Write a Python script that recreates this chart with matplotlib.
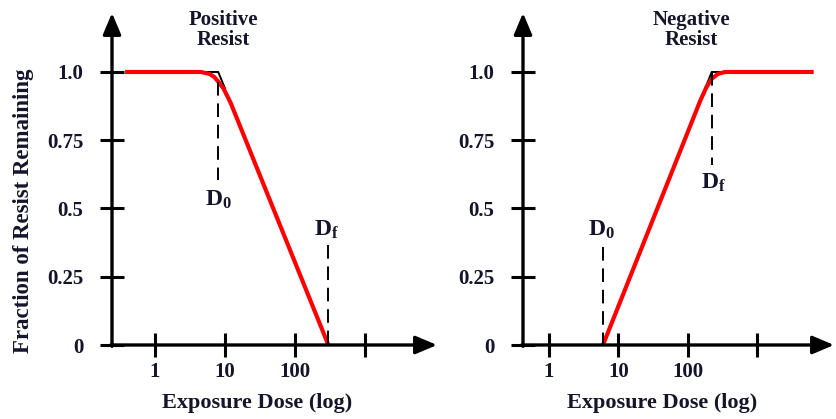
import matplotlib
matplotlib.use('Agg')
import matplotlib.pyplot as plt
from matplotlib.ticker import FixedLocator, NullLocator, FixedFormatter

plt.rcParams['font.family'] = 'Liberation Serif'
plt.rcParams['font.weight'] = 'bold'
plt.rcParams['axes.labelweight'] = 'bold'
plt.rcParams['mathtext.fontset'] = 'custom'
plt.rcParams['mathtext.rm'] = 'Liberation Serif:bold'
plt.rcParams['mathtext.it'] = 'Liberation Serif:bold'
plt.rcParams['mathtext.bf'] = 'Liberation Serif:bold'

TXT = '#14142a'

# datos del esquema (dosis en escala log, fraccion de resist)
x_ticks = [1, 10, 100, 1000]
x_labels = ['1', '10', '100', '']
y_ticks = [0, 0.25, 0.5, 0.75, 1.0]
y_labels = ['0', '0.25', '0.5', '0.75', '1.0']

pos_D0 = 8
pos_Df = 300
pos_dose = [0.4, 4.5, 6, 7, 8, 9.5, 12, 300]
pos_frac = [1.0, 1.0, 0.993, 0.982, 0.965, 0.94, 0.888, 0.0]
pos_ideal_dose = [4, 8, 10]
pos_ideal_frac = [1.0, 1.0, 0.94]

neg_D0 = 6
neg_Df = 220
neg_dose = [6, 150, 185, 220, 270, 340, 6000]
neg_frac = [0.0, 0.894, 0.945, 0.975, 0.993, 1.0, 1.0]
neg_ideal_dose = [155, 220, 420]
neg_ideal_frac = [0.903, 1.0, 1.0]

W, H = 836, 419
fig = plt.figure(figsize=(W / 100, H / 100), dpi=100)


def make_axes(x0, x1, y0, y1, xlim):
    ax = fig.add_axes([x0 / W, 1 - y1 / H, (x1 - x0) / W, (y1 - y0) / H])
    ax.set_xscale('log')
    ax.set_xlim(*xlim)
    ax.set_ylim(0, 1.216)
    for s in ax.spines.values():
        s.set_visible(False)
    ax.xaxis.set_major_locator(FixedLocator(x_ticks))
    ax.xaxis.set_major_formatter(FixedFormatter(x_labels))
    ax.xaxis.set_minor_locator(NullLocator())
    ax.set_yticks(y_ticks)
    ax.set_yticklabels(y_labels)
    ax.tick_params(axis='both', direction='inout', length=17, width=2.2,
                   labelsize=15, color='k', labelcolor=TXT)
    ax.tick_params(axis='y', pad=12)
    ax.tick_params(axis='x', pad=4)
    arrow = dict(arrowstyle='-|>,head_length=1.3,head_width=0.55', lw=2.4,
                 color='k', shrinkA=0, shrinkB=0)
    ax.annotate('', xy=(1, 0), xytext=(-0.004, 0), xycoords='axes fraction',
                arrowprops=arrow)
    ax.annotate('', xy=(0, 1), xytext=(0, -0.004), xycoords='axes fraction',
                arrowprops=arrow)
    ax.set_xlabel('Exposure Dose (log)', fontsize=16, color=TXT)
    ax.xaxis.set_label_coords(0.446, -0.145)
    return ax


ax1 = make_axes(112, 437, 13, 345, (0.243, 10700))
ax1.plot(pos_ideal_dose, pos_ideal_frac, color='k', lw=1.4)
ax1.plot(pos_dose, pos_frac, color='#ff0000', lw=3)
ax1.plot([pos_D0, pos_D0], [0.963, 0.604], color='k', lw=1.4, dashes=(7, 4))
ax1.plot([pos_Df, pos_Df], [0.366, 0.0], color='k', lw=1.4, dashes=(7, 4))
ax1.text(pos_D0, 0.53, '$D_0$', fontsize=17, ha='center', va='center', color=TXT)
ax1.text(pos_Df * 0.93, 0.42, '$D_f$', fontsize=17, ha='center', va='center', color=TXT)
ax1.text(0.342, 0.949, 'Positive\nResist', transform=ax1.transAxes, fontsize=15,
         ha='center', va='center', linespacing=1.0, color=TXT)
ax1.set_ylabel('Fraction of Resist Remaining', fontsize=16.5, color=TXT)
ax1.yaxis.set_label_coords(-0.24, 0.404)

ax2 = make_axes(523, 834, 13, 345, (0.425, 12600))
ax2.plot(neg_ideal_dose, neg_ideal_frac, color='k', lw=1.4)
ax2.plot(neg_dose, neg_frac, color='#ff0000', lw=3)
ax2.plot([neg_D0, neg_D0], [0.359, 0.0], color='k', lw=1.4, dashes=(7, 4))
ax2.plot([neg_Df, neg_Df], [1.0, 0.66], color='k', lw=1.4, dashes=(7, 4))
ax2.text(neg_D0 * 0.95, 0.42, '$D_0$', fontsize=17, ha='center', va='center', color=TXT)
ax2.text(neg_Df * 1.05, 0.593, '$D_f$', fontsize=17, ha='center', va='center', color=TXT)
ax2.text(0.54, 0.949, 'Negative\nResist', transform=ax2.transAxes, fontsize=15,
         ha='center', va='center', linespacing=1.0, color=TXT)

fig.savefig('out.png', dpi=100)
